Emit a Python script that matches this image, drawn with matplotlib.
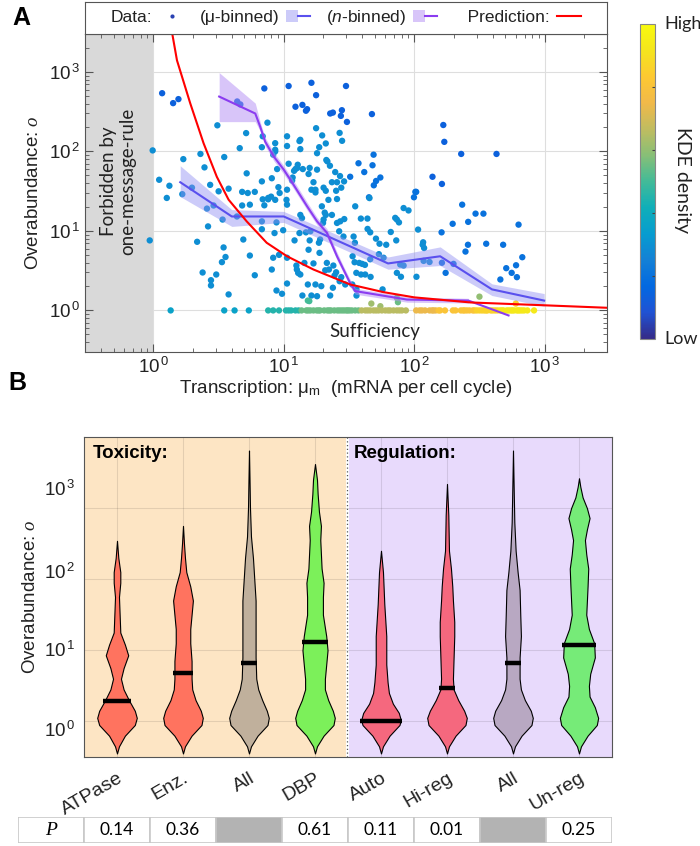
import numpy as np
import matplotlib.pyplot as plt
from matplotlib.colors import LinearSegmentedColormap
from matplotlib.patches import Patch, Rectangle
from matplotlib.lines import Line2D
from matplotlib.legend_handler import HandlerTuple
from matplotlib.ticker import FuncFormatter, LogLocator, NullFormatter
from matplotlib.cm import ScalarMappable
from matplotlib.colors import Normalize

plt.rcParams['font.family'] = ['Liberation Sans', 'DejaVu Sans']
plt.rcParams['mathtext.fontset'] = 'custom'
plt.rcParams['mathtext.rm'] = 'Liberation Sans'
plt.rcParams['mathtext.it'] = 'Liberation Serif:italic'
plt.rcParams['mathtext.sf'] = 'Liberation Sans:italic'
plt.rcParams['mathtext.bf'] = 'Liberation Sans:bold'

# parula-like colour map (anchor colours)
parula = LinearSegmentedColormap.from_list('parula', [
    (0.208, 0.166, 0.529), (0.125, 0.324, 0.830), (0.006, 0.409, 0.883),
    (0.078, 0.504, 0.838), (0.027, 0.614, 0.814), (0.059, 0.684, 0.725),
    (0.259, 0.732, 0.595), (0.530, 0.749, 0.466), (0.752, 0.738, 0.377),
    (0.945, 0.726, 0.289), (0.994, 0.786, 0.197), (0.959, 0.895, 0.113),
    (0.976, 0.983, 0.054)])

# ---------------- panel A data ----------------
# sparse high points (dark blue)
dark_mu = [1.17, 1.42, 1.56, 4.4, 4.65, 7.1, 10.9, 16.3, 17.7, 30, 12.3, 13.9, 14.8,
           15.1, 22.7, 23.8, 27.9, 27.4, 30.5, 47.4, 167, 170, 229, 427, 138, 163]
dark_o = [540, 405, 455, 425, 390, 620, 665, 730, 510, 665, 365, 385, 325,
          340, 300, 308, 330, 280, 235, 295, 215, 132, 93, 93, 48, 39]

# right-hand sparse points
mid_mu = [48.8, 37.4, 47.9, 41.4, 32.3, 55, 51, 49, 45, 102, 103.5, 99.5, 162, 197,
          233, 259, 295, 339, 258, 247, 356, 480, 630, 673, 603, 558, 612, 507, 457,
          163, 174, 200]
mid_o = [91, 71, 67, 55, 48, 47, 42.5, 37.5, 26.5, 31, 31, 26.5, 9.6, 12.3,
         21.4, 13, 16.5, 16.5, 6.7, 5.5, 6.9, 6.7, 12, 4.67, 3.7, 2.97, 2.62, 3.4, 2.45,
         3.98, 2.97, 3.85]

# dense middle points
blue_mu = [0.99, 3.1, 7.5, 5.15, 4.6, 3.5, 2.3, 1.7, 2.47, 1.11, 1.33, 1.98, 1.67, 2.73,
           3.17, 3.78, 5.2, 4.8, 5.3, 6.0, 6.8, 6.9, 8.6, 8.6, 8.6, 8.3, 8.9, 8.1, 9.1,
           6.8, 17.7, 10.6, 13.4, 13.2, 10.6, 13.4, 18.7, 19.7, 21, 18, 26.8, 28, 21.2,
           21.6, 22.6, 24.8, 27, 25.6, 18, 15.8, 12.3, 12.0, 12.7, 11.7, 14, 10.9, 12.8,
           11.6, 15.5, 16.9, 16.3, 17.5, 17.5, 20.2, 21, 25.2, 27.6, 23.4, 29, 8, 7.6,
           10.6, 9.3, 6.9,
           0.94, 2.17, 2.39, 2.77, 2.77, 3.04, 3.36, 3.58, 3.46, 3.78, 4.9, 5.5, 6.0,
           6.8, 8.5, 9.9, 8.8, 8.3, 8.1, 9.2, 8.8, 9.7, 10.6, 10.6, 12.1, 12.5, 12.6,
           12.9, 13.4, 13.4, 13.8, 13.2, 14.8, 15.5, 15.8, 16, 14.4, 16.9, 15.3, 17.5,
           19.4, 18.8, 19, 18.6, 20.2, 21, 20.6, 20, 21.4, 22.2, 24, 25.2, 24.5, 20.8,
           23.8, 26.8, 27.6, 29.6, 25.6, 27.1, 29.1, 26.6, 28.7, 22, 25.6, 19.6, 23.4,
           10.6, 8.6, 10.5, 7.1, 7.6, 5.5, 4.8, 2.9, 2.58, 3.4, 4.38, 2.63, 1.27, 6.8,
           13.9, 16.3, 18, 22.7,
           35.3, 45.4, 39, 43.8, 34.3, 35.1, 33.7, 34.9, 36, 39.9, 37.9, 39.1, 41.9,
           42.1, 46.3, 33.5, 36.1, 36.1, 43.9, 46, 50.9, 54.2, 61, 53.6, 58.2, 46, 57.2,
           71.5, 73.6, 76.4, 66.1, 72.8, 78.1, 73.6, 79.1, 82.9, 82.9, 90.4, 107, 117,
           116, 119, 118, 131, 104]
blue_o = [103, 213, 230, 170, 110, 85, 93, 80, 63, 44, 37, 35, 29, 38,
          31.5, 34, 53, 31, 30, 31, 113, 155, 127, 105, 100, 91, 60, 46, 35.5,
          42, 196, 155, 140, 135, 117, 107, 113, 159, 126, 95, 171, 136, 78,
          75, 66, 55, 49, 41, 59, 62, 60, 57, 62, 47, 60, 70, 68,
          43, 52, 41, 33, 33, 30.5, 35, 32, 32, 35, 41, 42, 27, 26,
          33, 30, 25,
          7.6, 7.3, 3.0, 2.4, 2.06, 2.83, 4.05, 4.7, 6.2, 1.59, 7.8, 4.9, 2.77,
          10.5, 9.4, 10.2, 12.8, 4.6, 3.27, 5.0, 1.78, 1.62, 2.18, 4.6, 7.6, 3.67, 3.27,
          2.96, 2.83, 15.9, 14.5, 9.4, 9.6, 5.8, 7.6, 9.9, 3.96, 3.9, 2.12, 2.12,
          2.02, 5.3, 7.8, 7.1, 13.9, 15.9, 17, 12.6, 3.96, 3.27, 3.67, 3.02, 2.75, 3.2,
          1.93, 2.33, 2.62, 2.12, 12.6, 13.2, 14.1, 9.9, 8.5, 24.6, 25.2, 20.4, 15.9,
          21.4, 24.6, 24.6, 21, 25, 21.4, 20.9, 20.9, 19.1, 13.9, 15.2, 11.4, 26, 13.2,
          1.54, 1.54, 1.51, 1.54,
          20.4, 25.9, 14.3, 14.3, 8.5, 7.1, 4.8, 4.04, 2.97, 3.85, 3.96, 2.83, 3.74,
          2.83, 2.64, 2.12, 1.84, 1.54, 10.6, 9.6, 8.0, 6.9, 6.7, 5.1, 4.6, 4.4, 1.84,
          14.6, 13.9, 12.8, 9.7, 7.6, 3.78, 2.97, 2.65, 3.67, 19.4, 18.1, 10.4, 7.2,
          6.7, 6.1, 4.2, 4.07, 2.65]

# points just above o = 1
near_mu = [15.3, 15.7, 46.9, 55, 73.6, 75, 316, 600]
near_o = [1.33, 1.31, 1.22, 1.13, 1.44, 1.27, 1.49, 1.22]
near_kde = [0.50, 0.50, 0.62, 0.62, 0.55, 0.55, 0.60, 0.85]

# points on o = 1 (sufficiency), grouped by KDE density
one_mu = [[1.36, 3.5, 4.2, 5.4],
          [7.6, 8.3, 9.2, 10.4, 10.9, 11.4, 12.3, 13.0],
          [13.7, 14.9, 15.4, 16.0, 16.9, 17.9, 18.5, 19.0, 20.4, 21.6, 22.3, 23.0, 24.4,
           25.8, 26.8, 27.9, 29, 30.2, 31, 32.0, 33.3, 35.3, 37.4],
          [39.5, 42.2, 44, 46, 48.8, 51, 53.3, 56.5, 60, 63, 65.4, 69.4, 73.6, 77, 80.4, 86.3],
          [103.5, 110, 114.5, 121, 131, 137, 140.6, 146],
          [153.6, 158, 172, 197.8, 207, 227.5, 237, 243, 253, 265, 281, 290],
          [302, 316, 330, 343.6, 355, 364, 386, 400, 417, 435],
          [455, 470, 483, 512, 530, 550, 565, 582, 611, 628, 647, 670, 695, 736, 828]]
one_kde = [0.36, 0.45, 0.55, 0.66, 0.74, 0.81, 0.86, 0.93]

# mu-binned mean with band
mub_mu = [1.61, 4.0, 10, 63, 158, 394, 990]
mub_o = [41, 15.2, 15.2, 3.9, 4.8, 1.84, 1.33]
mub_lo = [27, 11.4, 12.8, 3.3, 3.67, 1.54, 1.13]
mub_hi = [66, 18.5, 17.6, 4.7, 6.3, 2.16, 1.63]

# n-binned mean with band
nb_mu = [3.2, 6.05, 6.6, 7.2, 8.4, 10, 11.9, 15.1, 18, 21.4, 25.6, 28.7, 32.3, 35.3, 88, 260, 528]
nb_o = [490, 300, 205, 133, 86, 59, 38, 20.4, 13.2, 9.5, 4.8, 3.27, 2.2, 1.75, 1.37, 1.33, 0.865]
nb_lo = [237, 237, 180, 117, 76, 52, 34, 18.3, 11.9, 8.5, 4.3, 2.95, 1.98, 1.6, 1.27, 1.24]
nb_hi = [980, 405, 235, 150, 97, 66, 43, 23, 14.8, 10.7, 5.4, 3.6, 2.45, 1.9, 1.48, 1.42]

# prediction curve
pred_mu = [1.4, 1.52, 1.92, 2.43, 3.07, 3.78, 5.2, 7.4, 10.6, 16.9, 32.3, 58, 100, 270, 1000, 3000]
pred_o = [3000, 1400, 404, 127, 48, 24.7, 13.2, 7.1, 4.8, 3.27, 2.12, 1.70, 1.46, 1.26, 1.16, 1.08]

# ---------------- panel B data ----------------
cats = ['ATPase', 'Enz.', 'All', 'DBP', 'Auto', 'Hi-reg', 'All', 'Un-reg']
vio_colors = ['#ff735f', '#ff735f', '#c0b09c', '#7cf05a', '#f5687e', '#f5687e', '#b8a8c2', '#76eb78']
# violin outlines: log10(o) and half width
vio_logo = [
    [-0.45, -0.35, -0.2, -0.05, 0.05, 0.15, 0.3, 0.45, 0.6, 0.75, 0.93, 1.08, 1.25, 1.5, 1.75, 1.95, 2.1, 2.3, 2.54],
    [-0.45, -0.35, -0.2, -0.05, 0.05, 0.15, 0.3, 0.45, 0.6, 0.85, 1.1, 1.3, 1.5, 1.7, 1.9, 2.1, 2.3, 2.5, 2.75],
    [-0.45, -0.35, -0.2, -0.05, 0.05, 0.15, 0.3, 0.45, 0.6, 0.9, 1.3, 1.7, 2.0, 2.3, 2.6, 3.0, 3.4, 3.81],
    [-0.45, -0.35, -0.2, -0.05, 0.05, 0.15, 0.3, 0.45, 0.6, 0.8, 1.0, 1.2, 1.5, 1.75, 1.95, 2.15, 2.35, 2.55, 2.75, 2.95, 3.2, 3.4, 3.62],
    [-0.45, -0.35, -0.2, -0.05, 0.02, 0.12, 0.25, 0.4, 0.55, 0.8, 1.2, 1.65, 2.1, 2.4],
    [-0.45, -0.35, -0.2, -0.05, 0.05, 0.15, 0.3, 0.45, 0.6, 0.9, 1.2, 1.4, 1.7, 1.9, 2.15, 2.4, 2.9, 3.34],
    [-0.45, -0.35, -0.2, -0.05, 0.05, 0.15, 0.3, 0.45, 0.6, 0.9, 1.2, 1.5, 1.85, 2.1, 2.4, 2.8, 3.3, 3.81],
    [-0.45, -0.35, -0.2, -0.05, 0.05, 0.2, 0.35, 0.5, 0.67, 0.9, 1.1, 1.3, 1.5, 1.7, 1.9, 2.15, 2.35, 2.55, 2.7, 2.86, 3.0, 3.15, 3.3, 3.42]]
vio_half = [
    [0, 0.03, 0.12, 0.27, 0.30, 0.27, 0.18, 0.10, 0.06, 0.10, 0.17, 0.12, 0.05, 0.04, 0.03, 0.05, 0.05, 0.02, 0],
    [0, 0.03, 0.13, 0.28, 0.30, 0.27, 0.19, 0.14, 0.13, 0.13, 0.11, 0.11, 0.13, 0.15, 0.11, 0.05, 0.03, 0.015, 0],
    [0, 0.03, 0.13, 0.28, 0.30, 0.27, 0.20, 0.14, 0.11, 0.10, 0.10, 0.10, 0.08, 0.06, 0.03, 0.015, 0.008, 0],
    [0, 0.03, 0.13, 0.28, 0.30, 0.27, 0.20, 0.15, 0.15, 0.17, 0.19, 0.17, 0.12, 0.12, 0.13, 0.10, 0.09, 0.08, 0.09, 0.06, 0.04, 0.03, 0],
    [0, 0.03, 0.13, 0.28, 0.30, 0.27, 0.18, 0.12, 0.10, 0.08, 0.08, 0.05, 0.03, 0],
    [0, 0.03, 0.13, 0.28, 0.30, 0.26, 0.17, 0.10, 0.09, 0.10, 0.11, 0.11, 0.09, 0.08, 0.06, 0.03, 0.02, 0],
    [0, 0.03, 0.13, 0.28, 0.30, 0.27, 0.18, 0.12, 0.10, 0.10, 0.12, 0.11, 0.10, 0.07, 0.04, 0.02, 0.01, 0],
    [0, 0.03, 0.13, 0.27, 0.29, 0.24, 0.16, 0.15, 0.17, 0.24, 0.23, 0.15, 0.11, 0.12, 0.13, 0.14, 0.11, 0.09, 0.12, 0.16, 0.12, 0.055, 0.02, 0]]
medians = [1.93, 4.8, 6.6, 12.9, 1.0, 3.0, 6.6, 12.0]
p_values = ['0.14', '0.36', None, '0.61', '0.11', '0.01', None, '0.25']

# ---------------- figure ----------------
fig = plt.figure(figsize=(7, 8.46), dpi=100)
W, H = 700, 846
axA = fig.add_axes([85 / W, 1 - 352 / H, 522 / W, 318 / H])
axL = fig.add_axes([85 / W, 1 - 34 / H, 522 / W, 32 / H])
axC = fig.add_axes([640 / W, 1 - 339 / H, 15 / W, 315 / H])
axB = fig.add_axes([84 / W, 1 - 757 / H, 528 / W, 320 / H])
axT = fig.add_axes([18 / W, 1 - 843 / H, 594 / W, 26 / H])

spine_c = '#555555'
txt_c = '#222222'
sup = FuncFormatter(lambda v, p: r'$\mathdefault{10^{\,%d}}$' % round(np.log10(v)))

axA.set_xscale('log')
axA.set_yscale('log')
axA.set_xlim(0.3, 3000)
axA.set_ylim(0.3, 3000)
axA.axvspan(0.3, 1, color='#d9d9d9', lw=0, zorder=0.6)
for v in [1, 10, 100, 1000]:
    axA.axvline(v, color='#dedede', lw=0.8, zorder=0.5)
    axA.axhline(v, color='#dedede', lw=0.8, zorder=0.5)

kw = dict(cmap=parula, vmin=0, vmax=1, s=21, lw=0, zorder=3)
for m, o, k in [(dark_mu, dark_o, 0.14), (mid_mu, mid_o, 0.2), (blue_mu, blue_o, 0.29)]:
    axA.scatter(m, o, c=[k] * len(m), **kw)
axA.scatter(near_mu, near_o, c=near_kde, **kw)
for m, k in zip(one_mu, one_kde):
    axA.scatter(m, [1] * len(m), c=[k] * len(m), **kw)

mu_line_c = '#5a50ee'
n_line_c = '#8b3cf0'
axA.fill_between(mub_mu, mub_lo, mub_hi, color='#8f8cf2', alpha=0.45, lw=0, zorder=4)
axA.plot(mub_mu, mub_o, color=mu_line_c, lw=1.5, zorder=5)
axA.fill_between(nb_mu[:len(nb_lo)], nb_lo, nb_hi, color='#b38cf5', alpha=0.5, lw=0, zorder=4)
axA.plot(nb_mu, nb_o, color=n_line_c, lw=1.5, zorder=5)
axA.plot(pred_mu, pred_o, color='red', lw=1.5, zorder=6)

axA.text(0.54, 42, 'Forbidden by\none-message-rule', rotation=90, ha='center', va='center',
         fontsize=13.5, family=['Lato', 'DejaVu Sans'], color=txt_c, zorder=7)
axA.text(50, 0.55, 'Sufficiency', ha='center', va='center', fontsize=13.5,
         family=['Lato', 'DejaVu Sans'], color=txt_c, zorder=7)

axA.xaxis.set_major_locator(LogLocator(10, numticks=10))
axA.yaxis.set_major_locator(LogLocator(10, numticks=10))
axA.xaxis.set_minor_locator(LogLocator(10, subs=np.arange(2, 10), numticks=20))
axA.yaxis.set_minor_locator(LogLocator(10, subs=np.arange(2, 10), numticks=20))
axA.xaxis.set_major_formatter(sup)
axA.yaxis.set_major_formatter(sup)
axA.xaxis.set_minor_formatter(NullFormatter())
axA.yaxis.set_minor_formatter(NullFormatter())
axA.tick_params(which='both', direction='in', top=True, right=True, color=spine_c,
                labelsize=13.5, labelcolor=txt_c)
axA.tick_params(which='major', length=6)
axA.tick_params(which='minor', length=3)
for s in axA.spines.values():
    s.set_color(spine_c)
axA.set_xlabel('Transcription: μ$_\\mathrm{m}$  (mRNA per cell cycle)', fontsize=13.5, labelpad=1, color=txt_c)
axA.set_ylabel('Overabundance: $o$', fontsize=13.5, labelpad=5, color=txt_c)

# legend band
axL.set_xticks([])
axL.set_yticks([])
for s in axL.spines.values():
    s.set_color(spine_c)
h_data = Line2D([], [], ls='none', marker='o', ms=3, mfc=parula(0.05), mec='none')
h_mu = (Patch(facecolor='#8f8cf2', alpha=0.45, lw=0), Line2D([], [], color=mu_line_c, lw=1.5))
h_n = (Patch(facecolor='#b38cf5', alpha=0.5, lw=0), Line2D([], [], color=n_line_c, lw=1.5))
h_pred = Line2D([], [], color='red', lw=1.5)
axL.legend([h_data, h_mu, h_n, h_pred],
           ['Data:', '(μ-binned)', '($\\mathsf{n}$-binned)', '   Prediction:'],
           handler_map={tuple: HandlerTuple(ndivide=None, pad=0)},
           loc='center', ncol=4, frameon=False, markerfirst=False, fontsize=12.5,
           handlelength=1.4, handletextpad=0.4, columnspacing=0.9, borderaxespad=0,
           labelcolor=txt_c)

# colorbar
sm = ScalarMappable(norm=Normalize(0, 1), cmap=parula)
cb = fig.colorbar(sm, cax=axC)
cb.set_ticks([0.2, 0.4, 0.6, 0.8])
cb.set_ticklabels([])
axC.tick_params(length=2, direction='in', color='#444444')
cb.outline.set_edgecolor('#888888')
fig.text(664 / W, 1 - 24 / H, 'High', fontsize=13, va='center', family=['Lato', 'DejaVu Sans'], color=txt_c)
fig.text(664 / W, 1 - 339 / H, 'Low', fontsize=13, va='center', family=['Lato', 'DejaVu Sans'], color=txt_c)
fig.text(683 / W, 1 - 180 / H, 'KDE density', fontsize=14, rotation=270, ha='center', va='center',
         family=['Lato', 'DejaVu Sans'], color=txt_c)

# ---------------- panel B ----------------
pos = np.arange(1, len(cats) + 1)
axB.set_xlim(0.5, 8.5)
axB.set_ylim(-0.5, 4)
axB.axvspan(0.5, 4.47, color='#fde5c4', lw=0, zorder=0)
axB.axvspan(4.52, 8.5, color='#e8dafc', lw=0, zorder=0)
axB.axvline(4.49, color='#555555', lw=0.9, ls=(0, (1, 2)), zorder=1)
for u in range(4):
    axB.axhline(u, color='black', alpha=0.1, lw=0.8, zorder=1)
for x in pos:
    axB.axvline(x, color='black', alpha=0.1, lw=0.8, zorder=1)

for x, lg, hw, col, med in zip(pos, vio_logo, vio_half, vio_colors, medians):
    lg = np.array(lg)
    hw = np.array(hw)
    axB.fill_betweenx(lg, x - hw, x + hw, facecolor=col, edgecolor='black', lw=0.8, zorder=3)
    m = np.log10(med)
    half = np.interp(m, lg, hw) + 0.02
    axB.plot([x - half, x + half], [m, m], color='black', lw=3.2, solid_capstyle='butt', zorder=4)

axB.text(0.63, 3.77, 'Toxicity:', fontsize=13.5, fontweight='bold', va='center', zorder=5)
axB.text(4.59, 3.77, 'Regulation:', fontsize=13.5, fontweight='bold', va='center', zorder=5)

axB.set_xticks(pos)
axB.set_xticklabels(cats, rotation=30, ha='right', rotation_mode='anchor', fontsize=14, color=txt_c)
axB.set_yticks([-0.1, 1.02, 2.12, 3.29])
axB.set_yticklabels([r'$\mathdefault{10^{\,%d}}$' % k for k in range(4)], fontsize=13.5, color=txt_c)
axB.tick_params(length=0)
axB.tick_params(axis='x', pad=9)
axB.tick_params(axis='y', pad=6)
for s in axB.spines.values():
    s.set_color(spine_c)
axB.set_ylabel('Overabundance: $o$', fontsize=13.5, labelpad=4, color=txt_c)

# P-value table
axT.set_xlim(0, 9)
axT.set_ylim(0, 1)
axT.axis('off')
for i in range(9):
    val = 'P' if i == 0 else p_values[i - 1]
    face = '#b3b3b3' if val is None else 'white'
    axT.add_patch(Rectangle((i, 0), 1, 1, facecolor=face, edgecolor='#c8c8c8', lw=1.2))
    if i == 0:
        axT.text(0.5, 0.5, 'P', ha='center', va='center', fontsize=14, style='italic',
                 family='Liberation Serif')
    elif val is not None:
        axT.text(i + 0.5, 0.5, val, ha='center', va='center', fontsize=12.5,
                 family=['Lato', 'DejaVu Sans'])

fig.text(12 / W, 1 - 18 / H, 'A', fontsize=18, fontweight='bold', va='center')
fig.text(8 / W, 1 - 383 / H, 'B', fontsize=18, fontweight='bold', va='center')

fig.savefig('out.png', dpi=100)
